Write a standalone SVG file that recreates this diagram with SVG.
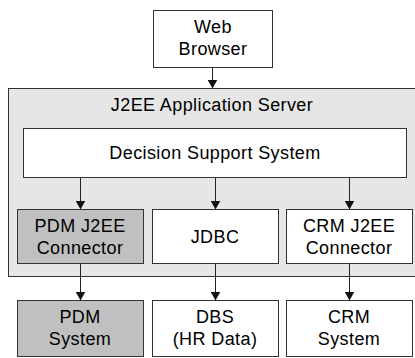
<svg xmlns="http://www.w3.org/2000/svg" width="415" height="358" viewBox="0 0 415 358">
<style>
.box{fill:#ffffff;stroke:#333333;stroke-width:1}
.gray{fill:#c0c0c0}
.srv{fill:#e6e6e6;stroke:#333333;stroke-width:1}
text{font-family:"Liberation Sans",Arial,sans-serif;font-size:18px;fill:#000000;text-anchor:middle;letter-spacing:0.4px}
.conn line{stroke:#222222;stroke-width:1}
</style>
<defs>
<marker id="ah" markerWidth="9" markerHeight="10" refX="8.5" refY="5" orient="auto" markerUnits="userSpaceOnUse">
<path d="M0,0 L9,5 L0,10 Z" fill="#111111"/>
</marker>
</defs>
<g id="server">
<rect class="srv" x="8.5" y="88.5" width="410" height="188"/>
<text x="212" y="111">J2EE Application Server</text>
</g>
<g id="web-browser">
<rect class="box" x="153.5" y="10.5" width="119" height="57"/>
<text x="213" y="33">Web</text>
<text x="213" y="55">Browser</text>
</g>
<g id="dss">
<rect class="box" x="23.5" y="128.5" width="383" height="49"/>
<text x="215" y="159">Decision Support System</text>
</g>
<g id="pdm-connector">
<rect class="box gray" x="17.5" y="209.5" width="126" height="54"/>
<text x="80" y="232">PDM J2EE</text>
<text x="80" y="254">Connector</text>
</g>
<g id="jdbc">
<rect class="box" x="152.5" y="209.5" width="126" height="54"/>
<text x="215" y="243">JDBC</text>
</g>
<g id="crm-connector">
<rect class="box" x="286.5" y="209.5" width="126" height="54"/>
<text x="349" y="232">CRM J2EE</text>
<text x="349" y="254">Connector</text>
</g>
<g id="pdm-system">
<rect class="box gray" x="17.5" y="300.5" width="126" height="56"/>
<text x="80" y="323">PDM</text>
<text x="80" y="345">System</text>
</g>
<g id="dbs">
<rect class="box" x="152.5" y="300.5" width="126" height="56"/>
<text x="215" y="323">DBS</text>
<text x="215" y="345">(HR Data)</text>
</g>
<g id="crm-system">
<rect class="box" x="286.5" y="300.5" width="126" height="56"/>
<text x="349" y="323">CRM</text>
<text x="349" y="345">System</text>
</g>
<g class="conn" id="connectors">
<line x1="212.5" y1="68" x2="212.5" y2="88" marker-end="url(#ah)"/>
<line x1="80.5" y1="178" x2="80.5" y2="209" marker-end="url(#ah)"/>
<line x1="215.5" y1="178" x2="215.5" y2="209" marker-end="url(#ah)"/>
<line x1="349.5" y1="178" x2="349.5" y2="209" marker-end="url(#ah)"/>
<line x1="80.5" y1="264" x2="80.5" y2="300" marker-end="url(#ah)"/>
<line x1="215.5" y1="264" x2="215.5" y2="300" marker-end="url(#ah)"/>
<line x1="349.5" y1="264" x2="349.5" y2="300" marker-end="url(#ah)"/>
</g>
</svg>
